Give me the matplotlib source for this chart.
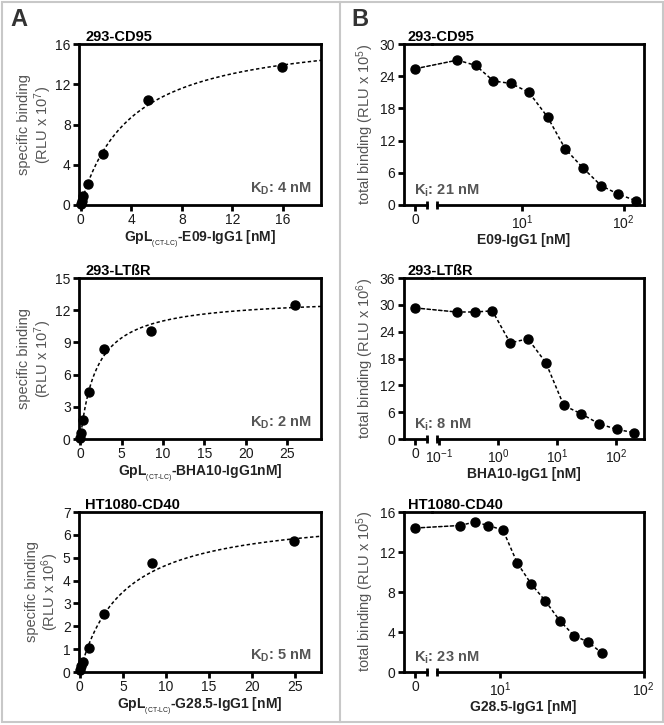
import numpy as np
import matplotlib
matplotlib.use("Agg")
import matplotlib.pyplot as plt
from matplotlib.patches import ConnectionPatch, Rectangle
from matplotlib.lines import Line2D

plt.rcParams["font.family"] = ["Liberation Sans", "DejaVu Sans"]
plt.rcParams["mathtext.fontset"] = "custom"
plt.rcParams["mathtext.rm"] = "Liberation Sans"
plt.rcParams["mathtext.it"] = "Liberation Sans"
plt.rcParams["mathtext.bf"] = "Liberation Sans:bold"

# ---- panel A: saturation binding ----
a_titles = ["293-CD95", "293-LTßR", "HT1080-CD40"]
a_x1 = [0.0, 0.08, 0.2, 0.6, 1.79, 5.3, 15.95]
a_y1 = [0.1, 0.43, 0.9, 2.06, 5.08, 10.4, 13.75]
a_x2 = [0.0, 0.12, 0.32, 1.0, 2.84, 8.56, 25.9]
a_y2 = [0.1, 0.55, 1.75, 4.4, 8.37, 10.1, 12.45]
a_x3 = [0.0, 0.12, 0.42, 1.04, 2.85, 8.4, 24.9]
a_y3 = [0.07, 0.25, 0.42, 1.03, 2.55, 4.77, 5.74]
a_kd = [4, 2, 5]
a_bmax = [17.4, 13.2, 7.0]
a_xlabels = ["GpL$_{_{\\text{(CT-LC)}}}$-E09-IgG1 [nM]",
             "GpL$_{_{\\text{(CT-LC)}}}$-BHA10-IgG1nM]",
             "GpL$_{_{\\text{(CT-LC)}}}$-G28.5-IgG1 [nM]"]
a_ylabels = ["specific binding\n(RLU x 10$^7$)",
             "specific binding\n(RLU x 10$^7$)",
             "specific binding\n(RLU x 10$^6$)"]
a_xticks = [[0, 4, 8, 12, 16], [0, 5, 10, 15, 20, 25], [0, 5, 10, 15, 20, 25]]
a_yticks = [[0, 4, 8, 12, 16], [0, 3, 6, 9, 12, 15], [0, 1, 2, 3, 4, 5, 6, 7]]
a_xlim = [(-0.13, 19.0), (-0.16, 29.1), (-0.1, 28.0)]

# ---- panel B: competition binding (first value at 0 nM) ----
b_zero1 = 25.4
b_x1 = [2.27, 3.45, 5.16, 7.72, 11.6, 17.7, 26.4, 39.9, 60.1, 89.2, 133]
b_y1 = [27.0, 26.0, 23.1, 22.65, 20.97, 16.4, 10.5, 6.85, 3.6, 2.0, 0.8]
b_zero2 = 29.3
b_x2 = [0.198, 0.40, 0.80, 1.6, 3.2, 6.4, 12.9, 25.7, 51, 102, 202]
b_y2 = [28.4, 28.4, 28.65, 21.5, 22.4, 17.1, 7.5, 5.6, 3.4, 2.15, 1.4]
b_zero3 = 14.4
b_x3 = [5.2, 6.6, 8.2, 10.4, 13.1, 16.4, 20.6, 25.9, 32.6, 40.9, 51.2]
b_y3 = [14.65, 15.0, 14.65, 14.2, 10.9, 8.8, 7.1, 5.15, 3.65, 3.0, 1.9]
b_ki = [21, 8, 23]
b_xlabels = ["E09-IgG1 [nM]", "BHA10-IgG1 [nM]", "G28.5-IgG1 [nM]"]
b_ylabels = ["total binding (RLU x 10$^5$)",
             "total binding (RLU x 10$^6$)",
             "total binding (RLU x 10$^5$)"]
b_yticks = [[0, 6, 12, 18, 24, 30], [0, 6, 12, 18, 24, 30, 36], [0, 4, 8, 12, 16]]
b_xticks = [[10, 100], [0.1, 1, 10, 100], [10, 100]]
b_logx = [(0.104, 2.198), (-1.118, 2.459), (0.521, 2.0)]

W, H = 664, 725
fig = plt.figure(figsize=(W / 100, H / 100), dpi=100)


def pos(l, r, t, b):
    return [l / W, 1 - b / H, (r - l) / W, (b - t) / H]


rows = [(44, 205), (278, 439), (512, 672)]
lw = 2.0
fs = 10.5
tick_col = "#1a1a1a"
lab_col = "#555555"


def style(ax):
    for s in ax.spines.values():
        s.set_linewidth(lw)
    ax.tick_params(direction="out", length=4.5, width=lw, labelsize=10,
                   colors="black", labelcolor=tick_col, pad=1.5)


a_data = [(a_x1, a_y1), (a_x2, a_y2), (a_x3, a_y3)]
for i, (t, b) in enumerate(rows):
    ax = fig.add_axes(pos(79, 321, t, b))
    style(ax)
    x, y = a_data[i]
    xf = np.linspace(0, a_xlim[i][1], 300)
    ax.plot(xf, a_bmax[i] * xf / (a_kd[i] + xf), color="black", lw=1.1,
            dashes=(2.2, 1.6))
    ax.plot(x, y, "o", color="black", ms=6.5, clip_on=False, zorder=5)
    ax.set_xlim(*a_xlim[i])
    ax.set_ylim(0, a_yticks[i][-1])
    ax.set_xticks(a_xticks[i])
    ax.set_yticks(a_yticks[i])
    ax.set_xlabel(a_xlabels[i], fontsize=10, fontweight="bold", color="#222222",
                  labelpad=1)
    ax.set_ylabel(a_ylabels[i], fontsize=fs, color=lab_col, labelpad=1,
                  linespacing=1.05)
    ax.set_title(a_titles[i], loc="left", fontsize=fs, fontweight="bold",
                 pad=2, x=0.025)
    ax.text(0.96, 0.05, "K$_\\mathregular{D}$: %d nM" % a_kd[i],
            transform=ax.transAxes, ha="right", va="bottom", fontsize=fs,
            fontweight="bold", color=lab_col)

b_data = [(b_zero1, b_x1, b_y1), (b_zero2, b_x2, b_y2), (b_zero3, b_x3, b_y3)]
split = 432
for i, (t, b) in enumerate(rows):
    axl = fig.add_axes(pos(403.7, split, t, b))
    axr = fig.add_axes(pos(split, 643.5, t, b), sharey=axl)
    axr.patch.set_visible(False)
    style(axl)
    style(axr)
    z, x, y = b_data[i]
    lo, hi = b_logx[i]
    axr.set_xscale("log")
    axr.set_xlim(10 ** lo, 10 ** hi)
    axr.set_xticks(b_xticks[i])
    axr.minorticks_off()
    axl.set_xlim(-1, 1.4)
    axl.set_xticks([0])
    axl.set_ylim(0, b_yticks[i][-1])
    axl.set_yticks(b_yticks[i])
    axl.spines["right"].set_visible(False)
    axr.spines["left"].set_visible(False)
    axr.tick_params(axis="y", left=False, labelleft=False)
    # broken bottom axis
    brk_l = -1 + 2.4 * (426.7 - 403.7) / (split - 403.7)
    frac_r = (437.3 - split) / (643.5 - split)
    brk_r = 10 ** (lo + frac_r * (hi - lo))
    axl.spines["bottom"].set_bounds(-1, brk_l)
    axr.spines["bottom"].set_bounds(brk_r, 10 ** hi)
    axl.plot([brk_l, brk_l], [-0.022, 0.022], color="black", lw=lw,
             transform=axl.get_xaxis_transform(), clip_on=False,
             solid_capstyle="butt")
    axr.plot([brk_r, brk_r], [-0.022, 0.022], color="black", lw=lw,
             transform=axr.get_xaxis_transform(), clip_on=False,
             solid_capstyle="butt")

    axl.plot([0], [z], "o", color="black", ms=6.5, clip_on=False, zorder=5)
    axr.plot(x, y, "o", color="black", ms=6.5, clip_on=False, zorder=5)
    axr.plot(x, y, color="black", lw=1.1, dashes=(2.2, 1.6))
    con = ConnectionPatch(xyA=(0, z), coordsA=axl.transData,
                          xyB=(x[0], y[0]), coordsB=axr.transData,
                          color="black", lw=1.1, linestyle=(0, (2.2, 1.6)))
    fig.add_artist(con)

    axl.set_ylabel(b_ylabels[i], fontsize=fs, color=lab_col, labelpad=3)
    axl.set_title(a_titles[i], loc="left", fontsize=fs, fontweight="bold",
                  pad=2, x=0.15)
    fig.text(523.5 / W, 1 - (b + 35) / H, b_xlabels[i], ha="center",
             va="center", fontsize=10, fontweight="bold", color="#222222")
    axr.text(414 / W, 1 - (b - 6) / H, "K$_\\mathregular{i}$: %d nM" % b_ki[i],
             transform=fig.transFigure, ha="left", va="bottom", fontsize=fs,
             fontweight="bold", color=lab_col)

# panel letters and frames
fig.text(10 / W, 1 - 26 / H, "A", fontsize=17, fontweight="bold", color="#333333")
fig.text(351 / W, 1 - 26 / H, "B", fontsize=17, fontweight="bold", color="#333333")
fig.add_artist(Rectangle((1.5 / W, 3 / H), (W - 3) / W, (H - 5) / H,
                         transform=fig.transFigure, fill=False,
                         edgecolor="#c8c8c8", lw=1.5))
fig.add_artist(Line2D([340 / W, 340 / W], [3 / H, 1 - 1.5 / H],
                      transform=fig.transFigure, color="#c8c8c8", lw=1.5))

fig.savefig("out.png", dpi=100)
